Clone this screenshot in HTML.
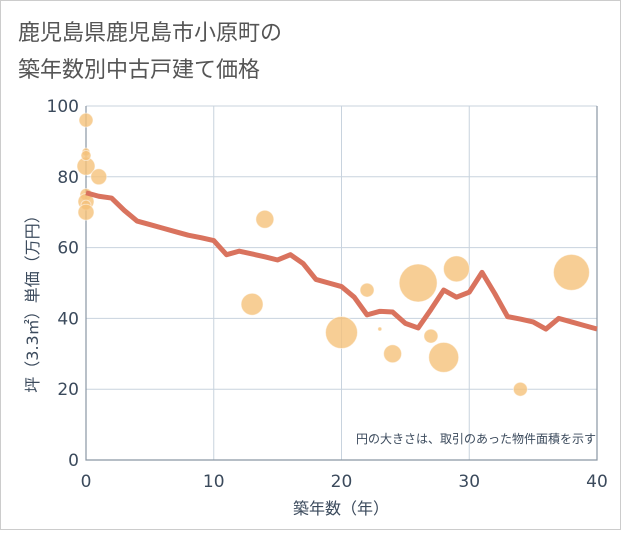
<!DOCTYPE html>
<html><head><meta charset="utf-8"><style>
body{margin:0;background:#fff;font-family:"DejaVu Sans","Noto Sans CJK JP",sans-serif;}
</style></head><body>
<svg width="621" height="530" xmlns="http://www.w3.org/2000/svg">
<rect x="0.5" y="0.5" width="620" height="529" fill="#fff" stroke="#ccc"/>
<text x="18" y="40" font-size="22" fill="#555">鹿児島県鹿児島市小原町の</text>
<text x="18" y="77" font-size="22" fill="#555">築年数別中古戸建て価格</text>
<g id="grid"></g>
<g id="bubbles"></g>
<g id="lineg"></g>
<g id="ticks"></g>
<text x="596" y="443" font-size="12" fill="#3b4a5c" text-anchor="end">円の大きさは、取引のあった物件面積を示す</text>
<text x="341" y="514" font-size="16" fill="#3b4a5c" text-anchor="middle">築年数（年）</text>
<text transform="translate(38,300) rotate(-90)" font-size="16" fill="#3b4a5c" text-anchor="middle">坪（3.3㎡）単価（万円）</text>
</svg>
<script>
const xTicks=[0,10,20,30,40];
const yTicks=[0,20,40,60,80,100];
const lineX=[0,1,2,3,4,5,6,7,8,9,10,11,12,13,14,15,16,17,18,19,20,21,22,23,24,25,26,27,28,29,30,31,32,33,34,35,36,37,38,39,40];
const lineY=[75.5,74.5,74,70.5,67.5,66.5,65.5,64.5,63.5,62.8,62,58,59,58.2,57.4,56.5,58,55.5,51,50,49,46,41,42,41.8,38.6,37.3,42.5,48,46,47.4,53,47,40.5,39.8,39,37,40,39,38,37];
const bubX=[0,0,0,0,1,0,0,0,0,14,13,20,22,23,24,26,27,28,29,34,38];
const bubY=[96,87,83,86,80,75,73,72,70,68,44,36,48,37,30,50,35,29,54,20,53];
const bubR=[7,4,9,5,8,6,8,5,8,9,11,16,7,2,9,19,7,15,13,7,18];
const X0=86,X1=597,Y0=460,Y1=106;
const sx=v=>X0+(X1-X0)*v/40, sy=v=>Y0-(Y0-Y1)*v/100;
const NS='http://www.w3.org/2000/svg';
function mk(t,a,p){const e=document.createElementNS(NS,t);for(const k in a)e.setAttribute(k,a[k]);p.appendChild(e);return e;}
const g=document.getElementById('grid'),tk=document.getElementById('ticks');
xTicks.forEach(v=>{const l=mk('line',{x1:sx(v),x2:sx(v),y1:Y1,y2:Y0,stroke:'#c8d3de'},g);

const t=mk('text',{x:sx(v),y:487,'font-size':17,fill:'#3b4a5c','text-anchor':'middle'},tk);t.textContent=v;
});
yTicks.forEach(v=>{const l=mk('line',{x1:X0,x2:X1,y1:sy(v),y2:sy(v),stroke:'#c8d3de'},g);

const t=mk('text',{x:79,y:sy(v)+6,'font-size':17,fill:'#3b4a5c','text-anchor':'end'},tk);t.textContent=v;
});
const ax=mk('path',{d:`M${X0},${Y1}V${Y0}H${X1}V${Y1}`,stroke:'#8a96a3',fill:'none','stroke-width':1.2},g);

const b=document.getElementById('bubbles');
bubX.forEach((v,i)=>{const c=mk('circle',{cx:sx(v),cy:sy(bubY[i]),r:bubR[i],fill:'#f5c27a','fill-opacity':0.8,stroke:'#fff','stroke-opacity':0.5},b);
});
const p=mk('polyline',{points:lineX.map((v,i)=>sx(v)+','+sy(lineY[i])).join(' '),fill:'none',stroke:'#d9735e','stroke-width':5,'stroke-linejoin':'round'},document.getElementById('lineg'));

</script>
</body></html>
